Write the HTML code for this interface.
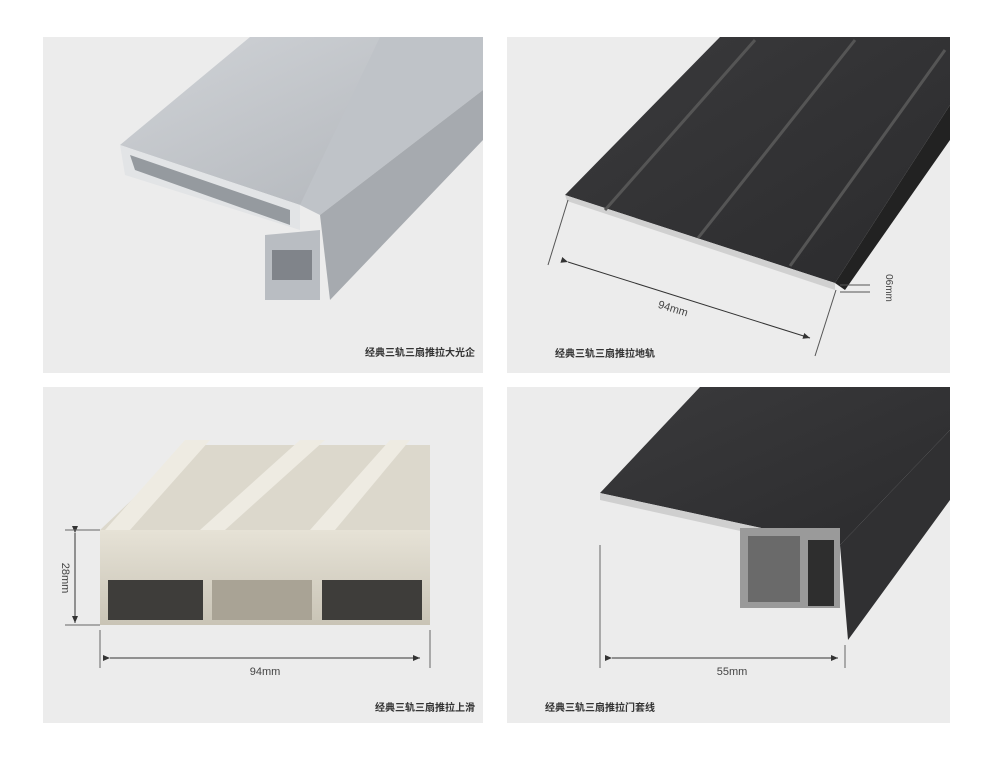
<!DOCTYPE html>
<html><head><meta charset="utf-8"><style>
html,body{margin:0;padding:0;background:#fff;width:1000px;height:764px;overflow:hidden}
svg{display:block}
text{font-family:"Liberation Sans","Noto Sans CJK SC",sans-serif}
</style></head><body>
<svg width="1000" height="764" viewBox="0 0 1000 764">
<defs>
<linearGradient id="sil" x1="0" y1="0" x2="1" y2="1"><stop offset="0" stop-color="#d0d3d7"/><stop offset="1" stop-color="#b0b4b9"/></linearGradient>
<linearGradient id="drk" x1="0" y1="0" x2="1" y2="1"><stop offset="0" stop-color="#3a3a3c"/><stop offset="1" stop-color="#2b2b2d"/></linearGradient>
<linearGradient id="crm" x1="0" y1="0" x2="0" y2="1"><stop offset="0" stop-color="#e6e2d6"/><stop offset="1" stop-color="#c9c4b6"/></linearGradient>
<marker id="ar" markerWidth="8" markerHeight="8" refX="7" refY="4" orient="auto"><path d="M0,1 L7,4 L0,7 z" fill="#333"/></marker>
</defs>
<rect x="43" y="37" width="440" height="336" fill="#ececec"/>
<rect x="507" y="37" width="443" height="336" fill="#ececec"/>
<rect x="43" y="387" width="440" height="336" fill="#ececec"/>
<rect x="507" y="387" width="443" height="336" fill="#ececec"/>

<!-- TL silver -->
<polygon points="120,145 250,37 483,37 483,60 300,205" fill="url(#sil)"/>
<polygon points="380,37 483,37 483,90 320,215 300,205" fill="#bfc3c8"/>
<polygon points="483,90 483,140 330,300 320,215" fill="#a6aaaf"/>
<polygon points="120,145 300,205 300,230 125,175" fill="#e2e4e6"/>
<polygon points="130,155 290,210 290,225 135,170" fill="#959a9f"/>
<polygon points="265,235 320,230 320,300 265,300" fill="#b9bdc2"/>
<rect x="272" y="250" width="40" height="30" fill="#80848a"/>

<!-- TR dark -->
<polygon points="565,195 720,37 950,37 950,105 835,283" fill="url(#drk)"/>
<polygon points="565,195 835,283 835,290 567,201" fill="#d0d0d0"/>
<polygon points="950,105 950,140 845,290 835,283" fill="#222"/>
<g stroke="#555" stroke-width="3"><line x1="605" y1="210" x2="755" y2="40"/><line x1="698" y1="238" x2="855" y2="40"/><line x1="790" y1="266" x2="945" y2="50"/></g>
<line x1="568" y1="200" x2="548" y2="265" stroke="#555"/>
<line x1="836" y1="290" x2="815" y2="356" stroke="#555"/>
<line x1="568" y1="262" x2="810" y2="338" stroke="#333" marker-end="url(#ar)" marker-start="url(#ar)"/>
<text x="672" y="312" font-size="11" fill="#444" transform="rotate(17 672 312)" text-anchor="middle">94mm</text>
<line x1="840" y1="285" x2="870" y2="285" stroke="#555"/><line x1="840" y1="292" x2="870" y2="292" stroke="#555"/>
<text x="886" y="288" font-size="10" fill="#444" transform="rotate(90 886 288)" text-anchor="middle">06mm</text>

<!-- BL cream -->
<polygon points="100,530 190,445 430,445 430,530" fill="#dcd8cc"/>
<g fill="#eeebe2"><polygon points="105,530 185,440 210,440 130,530"/><polygon points="200,530 300,440 325,440 225,530"/><polygon points="310,530 390,440 410,440 335,530"/></g>
<rect x="100" y="530" width="330" height="95" fill="url(#crm)"/>
<rect x="108" y="580" width="95" height="40" fill="#3e3d3a"/>
<rect x="212" y="580" width="100" height="40" fill="#a9a395"/>
<rect x="322" y="580" width="100" height="40" fill="#3e3d3a"/>
<line x1="75" y1="533" x2="75" y2="623" stroke="#333" marker-end="url(#ar)" marker-start="url(#ar)"/>
<line x1="65" y1="530" x2="100" y2="530" stroke="#666"/><line x1="65" y1="625" x2="100" y2="625" stroke="#666"/>
<text x="62" y="578" font-size="11" fill="#444" transform="rotate(90 62 578)" text-anchor="middle">28mm</text>
<line x1="100" y1="630" x2="100" y2="668" stroke="#666"/><line x1="430" y1="630" x2="430" y2="668" stroke="#666"/>
<line x1="110" y1="658" x2="420" y2="658" stroke="#333" marker-end="url(#ar)" marker-start="url(#ar)"/>
<text x="265" y="675" font-size="11" fill="#444" text-anchor="middle">94mm</text>

<!-- BR dark -->
<polygon points="600,493 700,387 950,387 950,430 840,545" fill="url(#drk)"/>
<polygon points="950,430 950,500 848,640 840,545" fill="#303032"/>
<polygon points="600,493 840,545 840,553 600,500" fill="#cfcfcf"/>
<rect x="740" y="528" width="100" height="80" fill="#9a9a9a"/>
<rect x="748" y="536" width="52" height="66" fill="#6a6a6a"/>
<rect x="808" y="540" width="26" height="66" fill="#2e2e2e"/>
<line x1="600" y1="545" x2="600" y2="668" stroke="#666"/><line x1="845" y1="645" x2="845" y2="668" stroke="#666"/>
<line x1="612" y1="658" x2="838" y2="658" stroke="#333" marker-end="url(#ar)" marker-start="url(#ar)"/>
<text x="732" y="675" font-size="11" fill="#444" text-anchor="middle">55mm</text>

<g font-size="10" fill="#333" font-weight="bold">
<text x="475" y="356" text-anchor="end">经典三轨三扇推拉大光企</text>
<text x="555" y="357">经典三轨三扇推拉地轨</text>
<text x="475" y="711" text-anchor="end">经典三轨三扇推拉上滑</text>
<text x="545" y="711">经典三轨三扇推拉门套线</text>
</g>
</svg>
</body></html>
